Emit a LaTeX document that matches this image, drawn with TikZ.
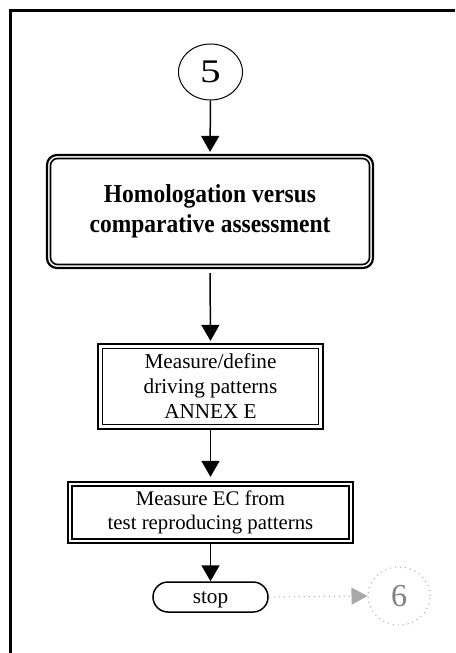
\documentclass[tikz,border=0pt]{standalone}
\usepackage{fontspec}
\setmainfont{Liberation Serif}
\usetikzlibrary{shapes.geometric,arrows.meta}
\definecolor{ghost}{HTML}{A8A8A8}
\definecolor{ghosttext}{HTML}{808080}
\tikzset{
  flowarrow/.style={line width=0.75pt,-{Triangle[length=8pt,width=9pt]}},
  ghostarrow/.style={ghost,line width=0.5pt,dotted,-{Triangle[length=8pt,width=8.5pt,fill=ghost]}},
  connector/.style={ellipse,draw,line width=0.5pt,inner sep=0pt,align=center},
  procbox/.style={rectangle,draw,line width=1.1pt,inner sep=0pt,align=center},
  terminal/.style={rectangle,rounded corners=7.5pt,draw,line width=0.75pt,inner sep=0pt,align=center},
}
\begin{document}
\begin{tikzpicture}[x=0.5pt,y=-0.5pt]
\useasboundingbox (0,0) rectangle (455,653);
% page frame (top and left edges)
\draw[line width=1.5pt] (10,653) -- (10,10) -- (455,10);

% connector 5
\node[connector,minimum width=32pt,minimum height=28pt,font=\fontsize{16.5pt}{18pt}\selectfont] (c5) at (210.5,72) {\scalebox{1.25}[1]{5}};

% homologation box: rounded double border
\node[rectangle,rounded corners=5pt,draw,line width=1.1pt,minimum width=163pt,minimum height=56.5pt,inner sep=0pt,align=center,
      font=\fontsize{11.75pt}{15pt}\selectfont\bfseries] (hom) at (210,211.5)
      {\scalebox{1}[1.1]{Homologation versus}\\\scalebox{1}[1.1]{comparative assessment}};
\draw[line width=0.8pt,rounded corners=3.5pt]
  ([xshift=2.3pt,yshift=-2.3pt]hom.north west) rectangle ([xshift=-2.3pt,yshift=2.3pt]hom.south east);

% driving patterns box
\node[procbox,minimum width=112.5pt,minimum height=42.5pt,font=\fontsize{10.6pt}{12.5pt}\selectfont] (drv) at (210.5,386.5)
      {Measure/define\\driving patterns\\ANNEX E};
\draw[line width=0.7pt]
  ([xshift=2.8pt,yshift=-2.8pt]drv.north west) rectangle ([xshift=-2.8pt,yshift=2.8pt]drv.south east);

% energy consumption box
\node[procbox,minimum width=142.5pt,minimum height=30.5pt,font=\fontsize{10.4pt}{12pt}\selectfont] (mec) at (210.5,512.5)
      {Measure EC from\\test reproducing patterns};
\draw[line width=0.7pt]
  ([xshift=2.5pt,yshift=-2.5pt]mec.north west) rectangle ([xshift=-2.5pt,yshift=2.5pt]mec.south east);

% terminal
\node[terminal,minimum width=57.5pt,minimum height=15pt,text height=7pt,text depth=1pt,font=\fontsize{10.6pt}{12pt}\selectfont] (stop) at (210.5,597) {stop};

% off-page connector 6
\node[connector,draw=ghost,dotted,minimum width=31pt,minimum height=29pt,text=ghosttext,
      font=\fontsize{16pt}{18pt}\selectfont] (c6) at (399,596) {6};

% flow
\draw[flowarrow,shorten >=1pt] (c5.south) -- (hom.north);
\draw[flowarrow,shorten <=2pt,shorten >=1pt] (hom.south) -- (drv.north);
\draw[flowarrow,shorten >=2pt] (drv.south) -- (mec.north);
\draw[flowarrow] (mec.south) -- (stop.north);
\draw[ghostarrow] (stop.east) -- (c6.west);
\end{tikzpicture}
\end{document}
